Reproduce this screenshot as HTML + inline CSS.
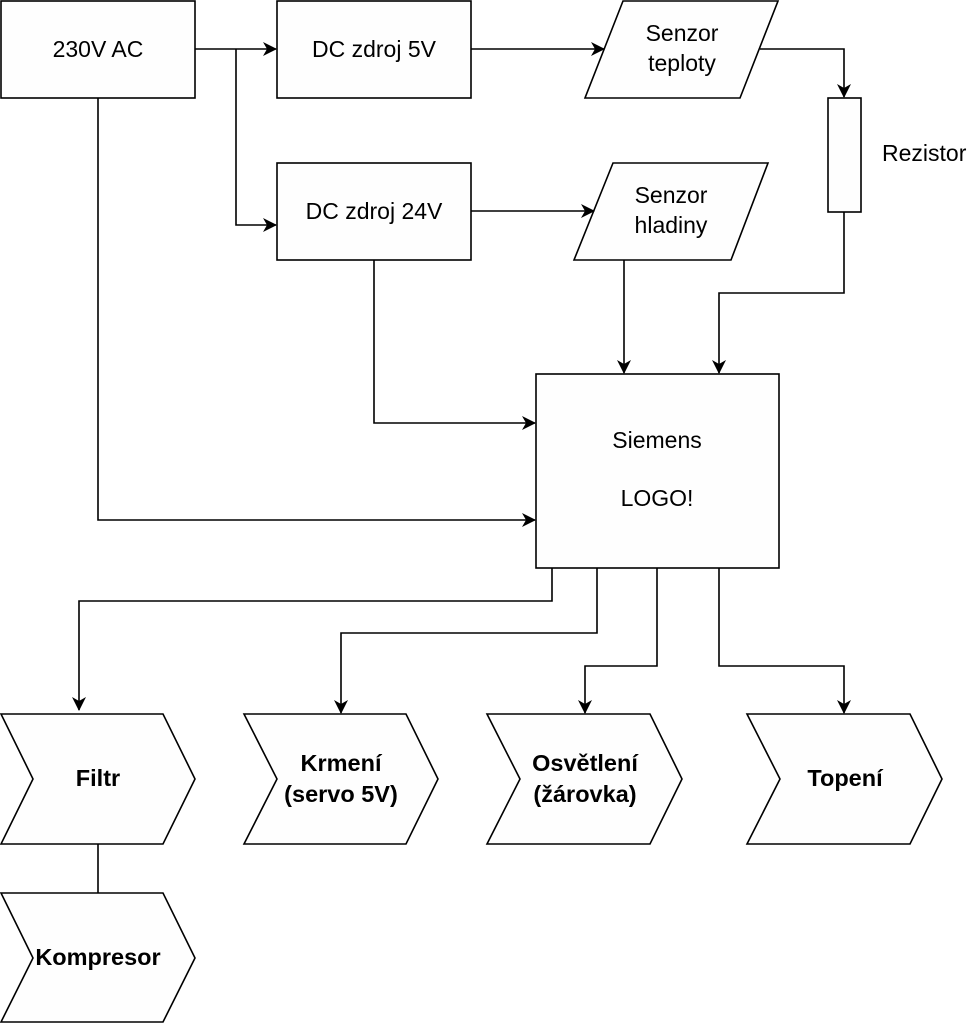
<!DOCTYPE html>
<html><head><meta charset="utf-8"><style>
html,body{margin:0;padding:0;background:#fff;}
svg{display:block;}
text{font-family:"Liberation Sans",sans-serif;font-size:23px;fill:#000;}
.b{font-weight:bold;font-size:23.5px;}
</style></head><body>
<svg width="970" height="1024" viewBox="0 0 970 1024" xmlns="http://www.w3.org/2000/svg">
<defs><marker id="a" markerWidth="14" markerHeight="14" refX="13" refY="7" orient="auto" markerUnits="userSpaceOnUse" viewBox="0 0 14 14"><path d="M0,0 L14,7 L0,14 L4,7 Z" fill="#000"/></marker></defs>
<g fill="#fefefe" stroke="#000" stroke-width="1.6">
<rect x="1" y="1" width="194" height="97"/>
<rect x="277" y="1" width="194" height="97"/>
<rect x="277" y="163" width="194" height="97"/>
<polygon points="623,1 778,1 740,98 585,98"/>
<polygon points="613,163 768,163 731,260 574,260"/>
<rect x="828" y="98" width="33" height="114"/>
<rect x="536" y="374" width="243" height="194"/>
<polygon points="1,714 163,714 195,779 163,844 1,844 33,779"/>
<polygon points="1,893 163,893 195,958 163,1022 1,1022 33,958"/>
<polygon points="244,714 406,714 438,779 406,844 244,844 277,779"/>
<polygon points="487,714 650,714 682,779 650,844 487,844 520,779"/>
<polygon points="747,714 910,714 942,779 910,844 747,844 780,779"/>
</g>
<g fill="none" stroke="#000" stroke-width="1.6">
<path d="M195,49 H276" marker-end="url(#a)"/>
<path d="M236,49 V225 H276" marker-end="url(#a)"/>
<path d="M471,49 H604" marker-end="url(#a)"/>
<path d="M471,211 H594" marker-end="url(#a)"/>
<path d="M760,49 H844 V97" marker-end="url(#a)"/>
<path d="M844,212 V293 H719 V373" marker-end="url(#a)"/>
<path d="M624,260 V373" marker-end="url(#a)"/>
<path d="M374,260 V423 H535" marker-end="url(#a)"/>
<path d="M98,98 V520 H535" marker-end="url(#a)"/>
<path d="M552,568 V601 H79 V710" marker-end="url(#a)"/>
<path d="M597,568 V633 H341 V713" marker-end="url(#a)"/>
<path d="M657,568 V666 H585 V713" marker-end="url(#a)"/>
<path d="M719,568 V666 H844 V713" marker-end="url(#a)"/>
<path d="M98,844 V893"/>
</g>
<g text-anchor="middle">
<text x="98" y="57">230V AC</text>
<text x="374" y="57">DC zdroj 5V</text>
<text x="374" y="219">DC zdroj 24V</text>
<text x="682" y="41">Senzor</text>
<text x="682" y="71">teploty</text>
<text x="671" y="203">Senzor</text>
<text x="671" y="233">hladiny</text>
<text x="657" y="448">Siemens</text>
<text x="657" y="506">LOGO!</text>
<text class="b" x="98" y="786">Filtr</text>
<text class="b" x="98" y="965">Kompresor</text>
<text class="b" x="341" y="771">Krmení</text>
<text class="b" x="341" y="802">(servo 5V)</text>
<text class="b" x="585" y="771">Osvětlení</text>
<text class="b" x="585" y="802">(žárovka)</text>
<text class="b" x="845" y="786">Topení</text>
</g>
<text x="882" y="161">Rezistor</text>
</svg>
</body></html>
